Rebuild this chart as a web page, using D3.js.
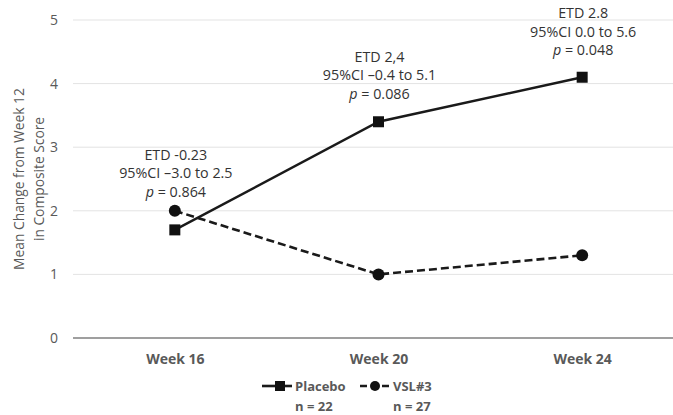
<!DOCTYPE html>
<html><head><meta charset="utf-8">
<script src="https://cdn.jsdelivr.net/npm/d3@7"></script>
<style>body{margin:0;background:#fff}svg{display:block}text{font-family:"Open Sans",sans-serif}</style>
</head><body><svg id="c" width="673" height="415"></svg>
<script>
const categories = ["Week 16", "Week 20", "Week 24"];
const placebo = [1.7, 3.4, 4.1];
const vsl3 = [2.0, 1.0, 1.3];
const yTicks = [0, 1, 2, 3, 4, 5];
const annLine1 = ["ETD -0.23", "ETD 2,4", "ETD 2.8"];
const annLine2 = ["95%CI \u20133.0 to 2.5", "95%CI \u20130.4 to 5.1", "95%CI 0.0 to 5.6"];
const annP = ["0.864", "0.086", "0.048"];
const annLevel = [2.88, 4.42, 5.11];
const seriesNames = ["Placebo", "VSL#3"];
const seriesN = ["n = 22", "n = 27"];

const svg = d3.select("#c");
const x = d3.scalePoint().domain(categories).range([73, 684]).padding(0.5);
const y = d3.scaleLinear().domain([0, 5]).range([338, 20]);

// gridlines
svg.append("g").selectAll("line").data(yTicks.filter(d => d > 0)).join("line")
  .attr("x1", 73).attr("x2", 673).attr("y1", d => y(d)).attr("y2", d => y(d))
  .attr("stroke", "#e3e3e3").attr("stroke-width", 1);
// y axis
const ya = svg.append("g").attr("transform", "translate(73,0)")
  .call(d3.axisLeft(y).tickValues(yTicks).tickFormat(d3.format("d")).tickSize(0).tickPadding(15));
ya.select(".domain").remove();
ya.selectAll("text").attr("fill", "#595959").attr("font-size", 14).attr("font-family", "Open Sans");
// baseline
svg.append("line").attr("x1", 73).attr("x2", 673).attr("y1", y(0)).attr("y2", y(0))
  .attr("stroke", "#7f7f7f").attr("stroke-width", 1.4);
// x axis labels
const xa = svg.append("g").attr("transform", `translate(0,${y(0)})`)
  .call(d3.axisBottom(x).tickSize(0).tickPadding(16));
xa.select(".domain").remove();
xa.selectAll("text").attr("fill", "#595959").attr("font-size", 14).attr("font-weight", "bold").attr("font-family", "Open Sans");

// y title
const yt = svg.append("text").attr("transform", "translate(0,179) rotate(-90)")
  .attr("text-anchor", "middle").attr("fill", "#595959").attr("font-size", 13.8);
yt.append("tspan").attr("x", 0).attr("y", 24).text("Mean Change from Week 12");
yt.append("tspan").attr("x", 0).attr("y", 44).text("in Composite Score");

// lines
const line = d3.line().x((d, i) => x(categories[i])).y(d => y(d));
svg.append("path").datum(vsl3).attr("d", line).attr("fill", "none")
  .attr("stroke", "#1a1a1a").attr("stroke-width", 2.6).attr("stroke-dasharray", "8,4");
svg.append("path").datum(placebo).attr("d", line).attr("fill", "none")
  .attr("stroke", "#1a1a1a").attr("stroke-width", 2.4);
svg.append("g").selectAll("circle").data(vsl3).join("circle")
  .attr("cx", (d, i) => x(categories[i])).attr("cy", d => y(d)).attr("r", 6).attr("fill", "#111");
svg.append("g").selectAll("rect").data(placebo).join("rect")
  .attr("x", (d, i) => x(categories[i]) - 5.5).attr("y", d => y(d) - 5.5)
  .attr("width", 11).attr("height", 11).attr("fill", "#111");

// annotations
const ann = svg.append("g").attr("fill", "#333").attr("font-size", 14.3).attr("text-anchor", "middle");
categories.forEach((c, i) => {
  const cx = x(c) + 1, top = y(annLevel[i]) + 5;
  ann.append("text").attr("x", cx).attr("y", top).text(annLine1[i]);
  ann.append("text").attr("x", cx).attr("y", top + 18.5).text(annLine2[i]);
  const t = ann.append("text").attr("x", cx).attr("y", top + 37);
  t.append("tspan").attr("font-style", "italic").text("p");
  t.append("tspan").text(" = " + annP[i]);
});

// legend
const lg = svg.append("g").attr("fill", "#595959").attr("font-size", 13).attr("font-weight", "bold");
const lx = [262, 360];
seriesNames.forEach((n, i) => {
  const x0 = lx[i];
  svg.append("line").attr("x1", x0).attr("x2", x0 + 30).attr("y1", 386).attr("y2", 386)
    .attr("stroke", "#1a1a1a").attr("stroke-width", 2.6).attr("stroke-dasharray", i === 1 ? "7,4" : null);
  if (i === 0) svg.append("rect").attr("x", x0 + 13).attr("y", 381).attr("width", 10).attr("height", 10).attr("fill", "#111");
  else svg.append("circle").attr("cx", x0 + 15).attr("cy", 386).attr("r", 5).attr("fill", "#111");
  lg.append("text").attr("x", x0 + 33).attr("y", 391).text(n);
  lg.append("text").attr("x", x0 + 33).attr("y", 411).text(seriesN[i]);
});
</script></body></html>
